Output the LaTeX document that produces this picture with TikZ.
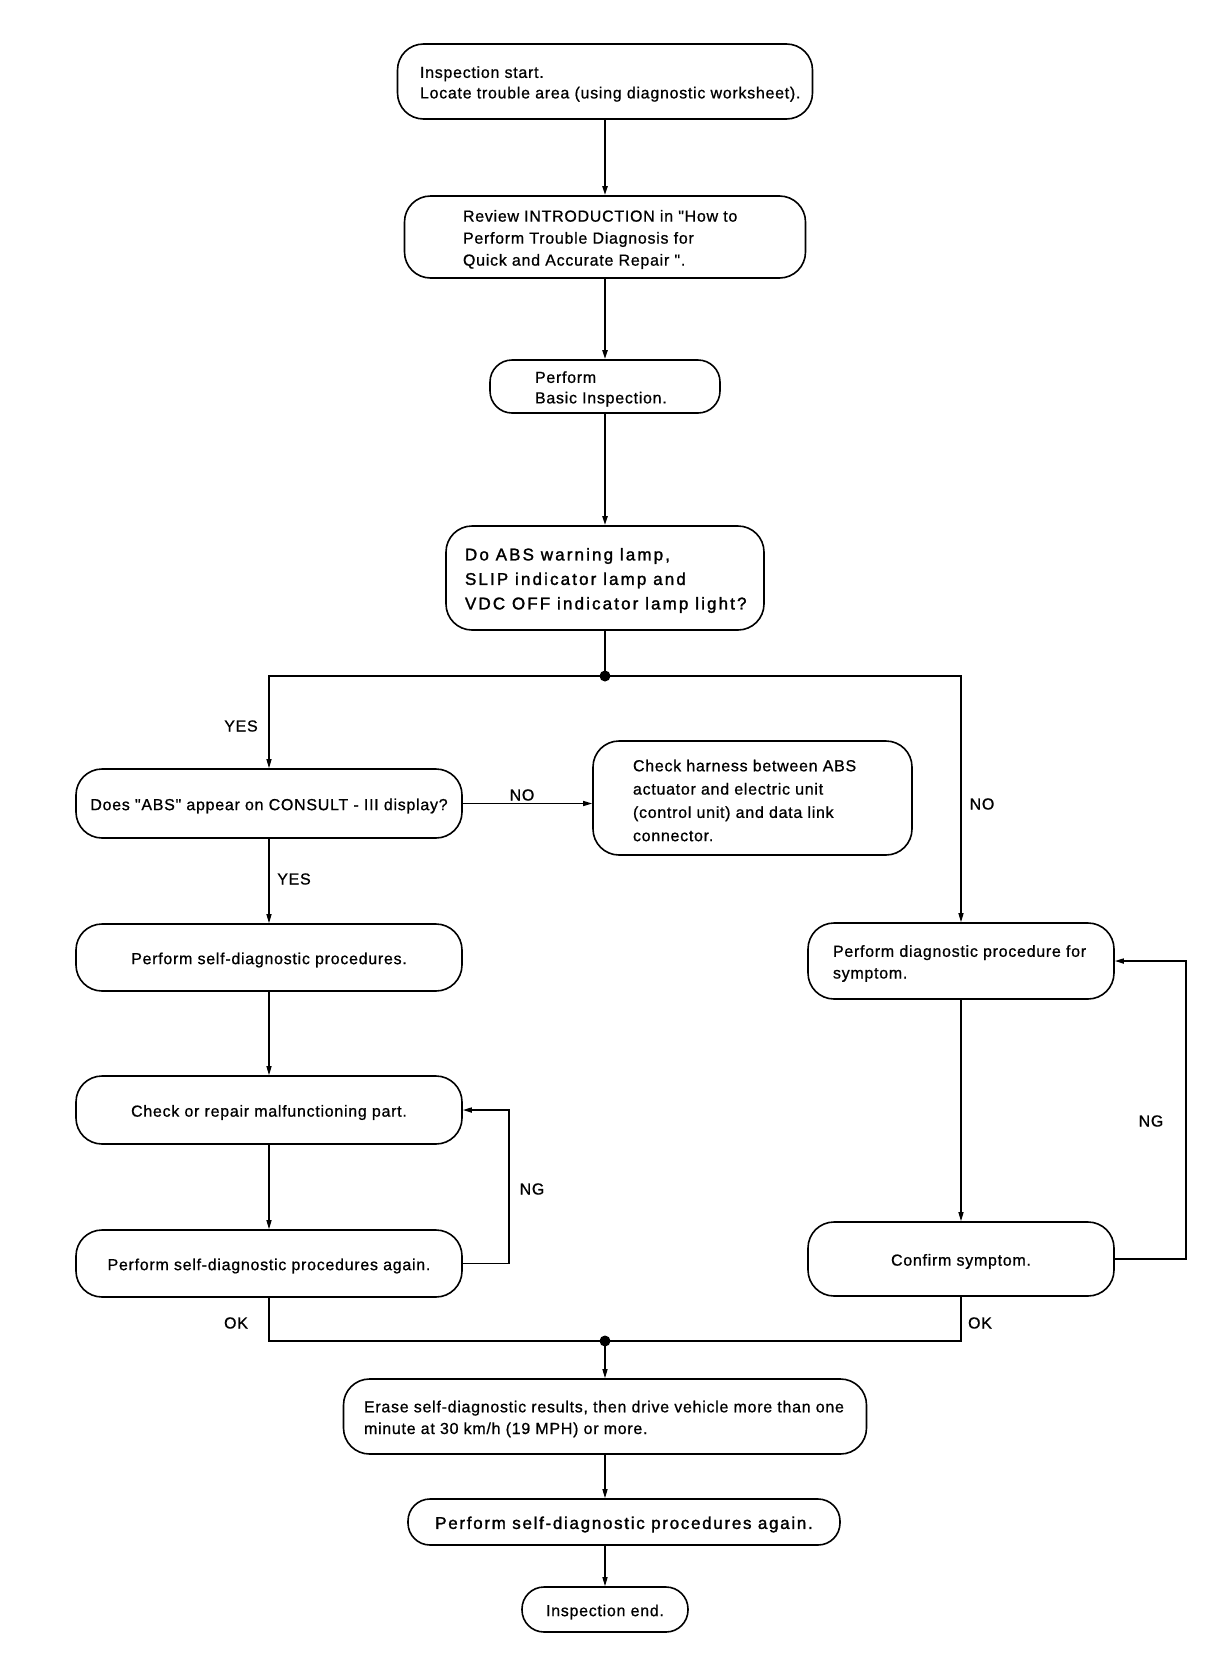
\documentclass[tikz,border=0pt]{standalone}
\usepackage{fontspec}
\setmainfont{Liberation Sans}
\newfontfamily\fa[LetterSpace=4.5,FakeBold=0.8]{Liberation Sans}
\newfontfamily\fb[LetterSpace=10,FakeBold=1.6]{Liberation Sans}
\newfontfamily\fc[LetterSpace=12.5,FakeBold=1.6]{Liberation Sans}
\usetikzlibrary{arrows.meta}
\newcommand{\lo}[1]{\raisebox{-2.5pt}[\height][\depth]{#1}}
\newcommand{\bxt}[3]{\makebox[#1][l]{\hspace*{#2}\lo{\parbox[c]{\dimexpr#1-#2\relax}{\raggedright #3}}}}
\tikzset{
  box/.style={draw, line width=1.6pt, inner sep=0pt, rounded corners=26pt},
  arr/.style={line width=1.3pt, -{Triangle[length=9pt,width=5pt]}},
  tarr/.style={line width=2pt, -{Triangle[length=9pt,width=5pt]}},
  ln/.style={line width=1.3pt},
  bln/.style={line width=1.8pt},
  lab/.style={inner sep=0pt, font=\fa\fontsize{16}{19}\selectfont},
  nf/.style={font=\fa\fontsize{16}{#1}\selectfont},
  bf/.style={font=\fb\fontsize{17}{#1}\selectfont},
  cf/.style={font=\fc\fontsize{17}{#1}\selectfont},
}
\begin{document}
\begin{tikzpicture}[x=1pt,y=-1pt]
\fill[white] (0,0) rectangle (1216,1660);
\useasboundingbox (0,0) rectangle (1216,1660);

\node[box, nf=20.5, minimum width=415pt, minimum height=75pt] (b1) at (605,81.5)
  {\bxt{415pt}{22.5pt}{Inspection start.\\Locate trouble area (using diagnostic worksheet).}};
\node[box, nf=22, minimum width=401pt, minimum height=82pt] (b2) at (605,237)
  {\bxt{401pt}{58.5pt}{Review INTRODUCTION in "How to\\Perform Trouble Diagnosis for\\Quick and Accurate Repair ".}};
\node[box, nf=20.5, rounded corners=22pt, minimum width=230pt, minimum height=53pt] (b3) at (605,386.5)
  {\bxt{230pt}{45pt}{Perform\\Basic Inspection.}};
\node[box, cf=24.5, minimum width=318pt, minimum height=104pt] (b4) at (605,578)
  {\bxt{318pt}{19pt}{Do ABS warning lamp,\\SLIP indicator lamp and\\VDC OFF indicator lamp light?}};

\node[box, nf=20, minimum width=386pt, minimum height=69pt] (b5) at (269,803.5)
  {\lo{Does "ABS" appear on CONSULT - III display?}};
\node[box, nf=23.3, minimum width=319pt, minimum height=114pt] (b6) at (752.5,798)
  {\bxt{319pt}{40pt}{Check harness between ABS\\actuator and electric unit\\(control unit) and data link\\connector.}};
\node[box, nf=20, minimum width=386pt, minimum height=67pt] (b7) at (269,957.5)
  {\lo{Perform self-diagnostic procedures.}};
\node[box, nf=20, minimum width=386pt, minimum height=68pt] (b8) at (269,1110)
  {\lo{Check or repair malfunctioning part.}};
\node[box, nf=20, minimum width=386pt, minimum height=67pt] (b9) at (269,1263.5)
  {\lo{Perform self-diagnostic procedures again.}};

\node[box, nf=21.7, minimum width=306pt, minimum height=76pt] (b10) at (961,961)
  {\bxt{306pt}{25pt}{Perform diagnostic procedure for\\symptom.}};
\node[box, nf=20, minimum width=306pt, minimum height=74pt] (b11) at (961,1259)
  {\lo{Confirm symptom.}};

\node[box, nf=21.7, minimum width=523pt, minimum height=75pt] (b12) at (605,1416.5)
  {\bxt{523pt}{20.5pt}{Erase self-diagnostic results, then drive vehicle more than one\\minute at 30 km/h (19 MPH) or more.}};
\node[box, bf=20, rounded corners=22pt, minimum width=432pt, minimum height=46pt] (b13) at (624,1522)
  {\lo{Perform self-diagnostic procedures again.}};
\node[box, nf=20, rounded corners=22pt, minimum width=166pt, minimum height=45pt] (b14) at (605,1609.5)
  {\lo{Inspection end.}};

% labels
\node[lab] (yes1) at (241,726) {YES};
\node[lab] (no1) at (522,795) {NO};
\node[lab] (no2) at (982,804) {NO};
\node[lab] (yes2) at (294,879) {YES};
\node[lab] (ng1) at (532,1189) {NG};
\node[lab] (ng2) at (1151,1121) {NG};
\node[lab] (ok1) at (236,1323) {OK};
\node[lab] (ok2) at (980,1323) {OK};

% junctions
\coordinate (d1) at (605,676);
\coordinate (d2) at (605,1341);

% connectors
\draw[tarr] (b1) -- (b2);
\draw[tarr] (b2) -- (b3);
\draw[tarr] (b3) -- (b4);
\draw[ln] (b4.south) -- (d1);
\draw[arr] (d1) -| (b5.north);
\draw[arr] (d1) -| (b10.north);
\fill (d1) circle[radius=5.5pt];

\draw[arr] (b5.east) -- (b5.east -| b6.west);
\draw[arr] (b5) -- (b7);
\draw[arr] (b7) -- (b8);
\draw[arr] (b8) -- (b9);
\draw[arr, line width=1.6pt] (b9.east) -- ++(46,0) |- (b8.east);

\draw[arr] (b10) -- (b11);
\draw[arr, line width=1.6pt] (b11.east) -- ++(71,0) |- (b10.east);

\draw[bln] (b9.south) |- (d2);
\draw[bln] (b11.south) |- (d2);
\fill (d2) circle[radius=5.5pt];
\draw[arr] (d2) -- (b12.north);
\draw[arr] (b12.south) -- (b12.south |- b13.north);
\draw[arr] (b12.south |- b13.south) -- (b14.north);
\end{tikzpicture}
\end{document}
